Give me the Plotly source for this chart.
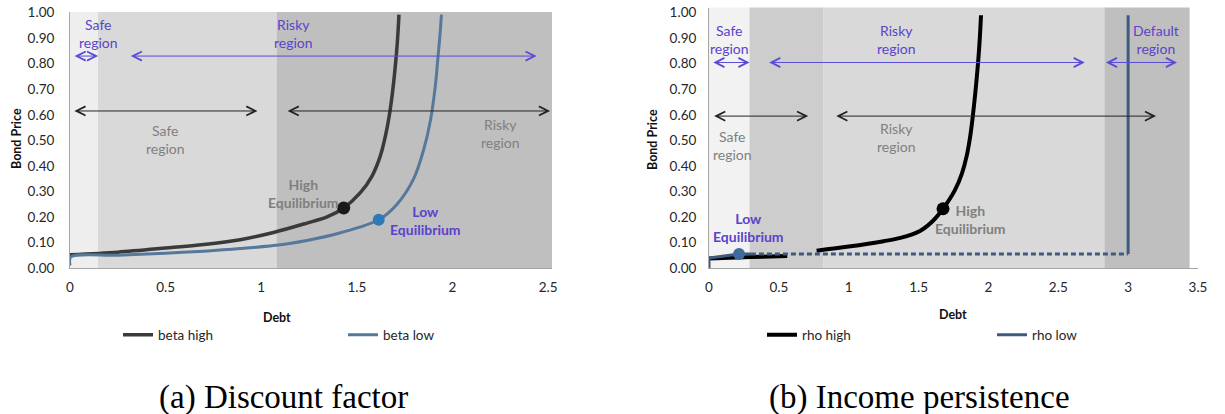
import plotly.graph_objects as go

# ---------------- data ----------------
# Panel (a): discount factor
beta_high_x = [0, 0.25, 0.5, 0.7, 0.89, 1.064, 1.239, 1.344, 1.431, 1.518, 1.579, 1.623, 1.65, 1.67, 1.688, 1.702, 1.712, 1.72]
beta_high_y = [0.052, 0.062, 0.078, 0.092, 0.111, 0.139, 0.176, 0.200, 0.235, 0.295, 0.36, 0.44, 0.52, 0.60, 0.70, 0.80, 0.89, 0.992]
beta_low_x = [0, 0.004, 0.25, 0.5, 0.7, 0.89, 1.064, 1.239, 1.414, 1.614, 1.71, 1.797, 1.849, 1.885, 1.911, 1.922, 1.934, 1.942]
beta_low_y = [0.01, 0.043, 0.05, 0.058, 0.066, 0.076, 0.088, 0.108, 0.138, 0.189, 0.25, 0.35, 0.463, 0.58, 0.72, 0.81, 0.91, 0.992]
a_eq_high = [1.431, 0.235]
a_eq_low = [1.614, 0.189]

# Panel (b): income persistence
rho_high_x = [0, 0.3, 0.56, None, 0.77, 1.0, 1.25, 1.37, 1.51, 1.6, 1.675, 1.76, 1.81, 1.845, 1.868, 1.885, 1.905, 1.922, 1.936, 1.947]
rho_high_y = [0.037, 0.043, 0.047, None, 0.068, 0.084, 0.105, 0.118, 0.145, 0.183, 0.232, 0.305, 0.37, 0.44, 0.51, 0.58, 0.68, 0.78, 0.88, 0.99]
rho_low_solid_x = [0, 0, 0.215, 0.30]
rho_low_solid_y = [0.0, 0.039, 0.055, 0.055]
rho_low_dash_x = [0.30, 3.0]
rho_low_dash_y = [0.055, 0.055]
rho_low_jump_x = [3.0, 3.0]
rho_low_jump_y = [0.055, 0.99]
b_eq_high = [1.675, 0.232]
b_eq_low = [0.215, 0.055]

# region bands (debt boundaries)
a_bands = [0, 0.146, 1.08, 2.52]
b_bands = [0, 0.29, 0.82, 2.83, 3.44]

# region arrows: (start, end, level)
a_blue_arrows = [(0.016, 0.147, 0.83), (0.31, 2.44, 0.83)]
a_black_arrows = [(0.015, 0.98, 0.615), (1.13, 2.51, 0.615)]
b_blue_arrows = [(0.02, 0.29, 0.805), (0.42, 2.69, 0.805), (2.83, 3.35, 0.805)]
b_black_arrows = [(0.026, 0.71, 0.595), (0.9, 3.2, 0.595)]

# region / equilibrium labels: (text, x, y)
a_blue_labels = [("Safe<br>region", 0.15, 0.918), ("Risky<br>region", 1.167, 0.918)]
a_gray_labels = [("Safe<br>region", 0.50, 0.502), ("Risky<br>region", 2.25, 0.528)]
a_eq_labels = [("High<br>Equilibrium", 1.22, 0.291, "gray"), ("Low<br>Equilibrium", 1.86, 0.185, "blue")]
b_blue_labels = [("Safe<br>region", 0.15, 0.897), ("Risky<br>region", 1.34, 0.897), ("Default<br>region", 3.2, 0.897)]
b_gray_labels = [("Safe<br>region", 0.17, 0.478), ("Risky<br>region", 1.34, 0.51)]
b_eq_labels = [("High<br>Equilibrium", 1.875, 0.19, "gray"), ("Low<br>Equilibrium", 0.28, 0.157, "blue")]

y_ticks = [0, 0.1, 0.2, 0.3, 0.4, 0.5, 0.6, 0.7, 0.8, 0.9, 1.0]
a_x_ticks = [0, 0.5, 1, 1.5, 2, 2.5]
b_x_ticks = [0, 0.5, 1, 1.5, 2, 2.5, 3, 3.5]

# ---------------- styles ----------------
FONT = "Lato"
BLUE_TXT = "#5b43cc"
BLUE_ARR = "#5a4bd6"
GRAY_TXT = "#808080"
a_band_colors = ["#eeeeee", "#d9d9d9", "#bfbfbf"]
b_band_colors = ["#f2f2f2", "#cdcdcd", "#d9d9d9", "#bfbfbf"]

W, H = 1225, 414
def px(v, total):
    return v / total

y_bottom = (H - 268) / H

fig = go.Figure()

# Panel (a) traces
fig.add_trace(go.Scatter(x=beta_high_x, y=beta_high_y, mode="lines", name="beta high",
                         line=dict(color="#3a3a3a", width=3.5, shape="spline", smoothing=0.9),
                         xaxis="x", yaxis="y", legend="legend"))
fig.add_trace(go.Scatter(x=beta_low_x, y=beta_low_y, mode="lines", name="beta low",
                         line=dict(color="#56789a", width=3, shape="spline", smoothing=0.9),
                         xaxis="x", yaxis="y", legend="legend"))
fig.add_trace(go.Scatter(x=[a_eq_high[0]], y=[a_eq_high[1]], mode="markers", showlegend=False,
                         marker=dict(color="#1a1a1a", size=13), xaxis="x", yaxis="y"))
fig.add_trace(go.Scatter(x=[a_eq_low[0]], y=[a_eq_low[1]], mode="markers", showlegend=False,
                         marker=dict(color="#2e7ab8", size=12), xaxis="x", yaxis="y"))

# Panel (b) traces
fig.add_trace(go.Scatter(x=rho_high_x, y=rho_high_y, mode="lines", name="rho high",
                         line=dict(color="#000000", width=4, shape="spline", smoothing=0.9),
                         connectgaps=False, xaxis="x2", yaxis="y2", legend="legend2"))
fig.add_trace(go.Scatter(x=rho_low_dash_x, y=rho_low_dash_y, mode="lines", showlegend=False,
                         line=dict(color="#3d5a80", width=3, dash="5px,3px"),
                         xaxis="x2", yaxis="y2"))
fig.add_trace(go.Scatter(x=rho_low_jump_x, y=rho_low_jump_y, mode="lines", showlegend=False,
                         line=dict(color="#3d5a80", width=3), xaxis="x2", yaxis="y2"))
fig.add_trace(go.Scatter(x=rho_low_solid_x, y=rho_low_solid_y, mode="lines", name="rho low",
                         line=dict(color="#3d5a80", width=3),
                         xaxis="x2", yaxis="y2", legend="legend2"))
fig.add_trace(go.Scatter(x=[b_eq_high[0]], y=[b_eq_high[1]], mode="markers", showlegend=False,
                         marker=dict(color="#000000", size=13), xaxis="x2", yaxis="y2"))
fig.add_trace(go.Scatter(x=[b_eq_low[0]], y=[b_eq_low[1]], mode="markers", showlegend=False,
                         marker=dict(color="#3f6a9a", size=12), xaxis="x2", yaxis="y2"))

# bands
shapes = []
for i, c in enumerate(a_band_colors):
    shapes.append(dict(type="rect", xref="x", yref="y domain", x0=a_bands[i], x1=a_bands[i + 1],
                       y0=0, y1=1, fillcolor=c, line=dict(width=0), layer="below"))
for i, c in enumerate(b_band_colors):
    shapes.append(dict(type="rect", xref="x2", yref="y2 domain", x0=b_bands[i], x1=b_bands[i + 1],
                       y0=0, y1=1, fillcolor=c, line=dict(width=0), layer="below"))

annotations = []

def arrow(x0, x1, y, color, xr, yr):
    return dict(x=x1, y=y, ax=x0, ay=y, xref=xr, yref=yr, axref=xr, ayref=yr, text="",
                showarrow=True, arrowhead=5, startarrowhead=5, arrowside="end+start",
                arrowsize=1.8, startarrowsize=1.8, arrowwidth=1, arrowcolor=color)

for (s, e, lv) in a_blue_arrows:
    annotations.append(arrow(s, e, lv, BLUE_ARR, "x", "y"))
for (s, e, lv) in a_black_arrows:
    annotations.append(arrow(s, e, lv, "#222222", "x", "y"))
for (s, e, lv) in b_blue_arrows:
    annotations.append(arrow(s, e, lv, BLUE_ARR, "x2", "y2"))
for (s, e, lv) in b_black_arrows:
    annotations.append(arrow(s, e, lv, "#222222", "x2", "y2"))

def label(t, x, y, color, xr, yr, bold=False):
    return dict(x=x, y=y, xref=xr, yref=yr, text=("<b>%s</b>" % t) if bold else t, showarrow=False,
                font=dict(family=FONT, size=14, color=color), align="center")

for (t, x, y) in a_blue_labels:
    annotations.append(label(t, x, y, BLUE_TXT, "x", "y"))
for (t, x, y) in a_gray_labels:
    annotations.append(label(t, x, y, GRAY_TXT, "x", "y"))
for (t, x, y, k) in a_eq_labels:
    annotations.append(label(t, x, y, GRAY_TXT if k == "gray" else BLUE_TXT, "x", "y", bold=True))
for (t, x, y) in b_blue_labels:
    annotations.append(label(t, x, y, BLUE_TXT, "x2", "y2"))
for (t, x, y) in b_gray_labels:
    annotations.append(label(t, x, y, GRAY_TXT, "x2", "y2"))
for (t, x, y, k) in b_eq_labels:
    annotations.append(label(t, x, y, GRAY_TXT if k == "gray" else BLUE_TXT, "x2", "y2", bold=True))

# axis titles
for (t, x, y, ang) in [("Bond Price", 17, 139, -90), ("Debt", 277, 317, 0),
                       ("Bond Price", 653, 139, -90), ("Debt", 953, 314, 0)]:
    annotations.append(dict(x=px(x, W), y=1 - px(y, H), xref="paper", yref="paper", text="<b>%s</b>" % t,
                            showarrow=False, textangle=ang, xanchor="center", yanchor="middle",
                            font=dict(family=FONT, size=12.5, color="#111111")))
# captions
for (t, x) in [("(a) Discount factor", 283), ("(b) Income persistence", 919)]:
    annotations.append(dict(x=px(x, W), y=1 - px(397, H), xref="paper", yref="paper", text=t,
                            showarrow=False, xanchor="center", yanchor="middle",
                            font=dict(family="Liberation Serif", size=33, color="#000000")))

axis_common = dict(showgrid=False, zeroline=False, showline=True, linecolor="#a6a6a6", linewidth=1,
                   ticks="outside", tickcolor="rgba(0,0,0,0)",
                   tickfont=dict(family=FONT, size=13.5, color="#262626"), fixedrange=True)

fig.update_layout(
    width=W, height=H, margin=dict(l=0, r=0, t=0, b=0, autoexpand=False),
    paper_bgcolor="white", plot_bgcolor="rgba(0,0,0,0)",
    xaxis=dict(domain=[px(70, W), px(552, W)], range=[0, 2.52], tickvals=a_x_ticks,
               ticktext=[("%g" % v) for v in a_x_ticks], ticklen=7, anchor="y", **axis_common),
    yaxis=dict(domain=[y_bottom, (H - 11.9) / H], range=[0, 1.003], tickvals=y_ticks,
               ticktext=["%.2f" % v for v in y_ticks], ticklen=12, anchor="x", **axis_common),
    xaxis2=dict(domain=[px(709, W), px(1198, W)], range=[0, 3.5], tickvals=b_x_ticks,
                ticktext=[("%g" % v) for v in b_x_ticks], ticklen=7, anchor="y2", **axis_common),
    yaxis2=dict(domain=[y_bottom, (H - 7.6) / H], range=[0, 1.02], tickvals=y_ticks,
                ticktext=["%.2f" % v for v in y_ticks], ticklen=9, anchor="x2", **axis_common),
    shapes=shapes, annotations=annotations,
    legend=dict(orientation="h", x=px(118, W), y=1 - px(335, H), xanchor="left", yanchor="middle",
                entrywidth=180, entrywidthmode="pixels", bgcolor="rgba(0,0,0,0)",
                font=dict(family=FONT, size=13.5, color="#262626")),
    legend2=dict(orientation="h", x=px(762, W), y=1 - px(335, H), xanchor="left", yanchor="middle",
                 entrywidth=185, entrywidthmode="pixels", bgcolor="rgba(0,0,0,0)",
                 font=dict(family=FONT, size=13.5, color="#262626")),
    showlegend=True,
)

fig.write_html("out.html", config={"displayModeBar": False},
               post_script="document.body.style.margin='0px';document.body.style.overflow='hidden';")
